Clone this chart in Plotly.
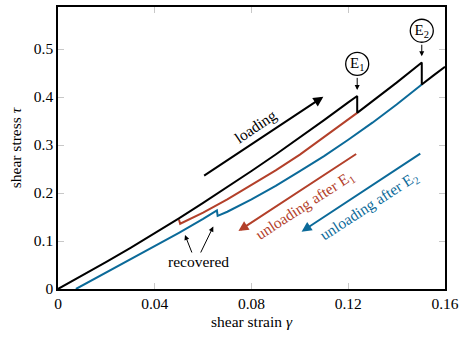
import plotly.graph_objects as go

# loading curve (black), with the two drops at E1 and E2
load_x = [0, 0.01, 0.02, 0.03, 0.04, 0.05, 0.06, 0.07, 0.08, 0.09, 0.10, 0.11, 0.12, 0.1237,
          0.1237, 0.13, 0.14, 0.1504, 0.1504, 0.155, 0.16]
load_y = [0, 0.0278, 0.0564, 0.0858, 0.1161, 0.1473, 0.1793, 0.2121, 0.2458, 0.2803, 0.3156, 0.3518, 0.3888, 0.402,
          0.367, 0.391, 0.430, 0.472, 0.426, 0.444, 0.463]

# unloading after E1 (red)
unl1_x = [0.0500, 0.0505, 0.06, 0.07, 0.08, 0.09, 0.10, 0.11, 0.1237]
unl1_y = [0.145, 0.136, 0.159, 0.1867, 0.2167, 0.247, 0.280, 0.316, 0.367]

# unloading after E2 (blue)
unl2_x = [0.0074, 0.02, 0.03, 0.04, 0.0442, 0.05, 0.06, 0.0657, 0.0660, 0.07, 0.08, 0.09, 0.10,
          0.11, 0.12, 0.13, 0.14, 0.1504]
unl2_y = [0, 0.0344, 0.0618, 0.0891, 0.1006, 0.1171, 0.146, 0.1635, 0.1525, 0.161, 0.1866, 0.215, 0.2455,
          0.277, 0.311, 0.3465, 0.3845, 0.426]

event_x = [0.1237, 0.1504]
event_y = [0.469, 0.538]
event_txt = ["E<sub>1</sub>", "E<sub>2</sub>"]

x_ticks = [0, 0.04, 0.08, 0.12, 0.16]
x_labels = ["0", "0.04", "0.08", "0.12", "0.16"]
y_ticks = [0, 0.1, 0.2, 0.3, 0.4, 0.5]
y_labels = ["0", "0.1", "0.2", "0.3", "0.4", "0.5"]

BLACK = "#000000"
RED = "#b3402a"
BLUE = "#0b6a99"
FONT = "Liberation Serif"
FS = 15.5

fig = go.Figure()
fig.add_trace(go.Scatter(x=unl2_x, y=unl2_y, mode="lines", line=dict(color=BLUE, width=2)))
fig.add_trace(go.Scatter(x=unl1_x, y=unl1_y, mode="lines", line=dict(color=RED, width=2)))
fig.add_trace(go.Scatter(x=load_x, y=load_y, mode="lines", line=dict(color=BLACK, width=2)))
fig.add_trace(go.Scatter(
    x=event_x, y=event_y, mode="markers+text", text=event_txt,
    textposition="middle center", textfont=dict(family=FONT, size=15, color="black"),
    marker=dict(size=23, color="white", line=dict(color="black", width=1.3)),
))


def arrow(x0, y0, x1, y1, color, width=2, head=2, size=1.0):
    return dict(x=x1, y=y1, ax=x0, ay=y0, xref="x", yref="y", axref="x", ayref="y",
                text="", showarrow=True, arrowhead=head, arrowsize=size,
                arrowwidth=width, arrowcolor=color, standoff=0)


def label(x, y, text, color, angle=0):
    return dict(x=x, y=y, xref="x", yref="y", text=text, showarrow=False,
                textangle=angle, font=dict(family=FONT, size=FS, color=color))


annotations = [
    arrow(0.0598, 0.234, 0.1097, 0.4006, BLACK),
    label(0.0815, 0.339, "loading", BLACK, -34),
    arrow(0.1239, 0.2833, 0.0746, 0.1208, RED),
    label(0.1021, 0.175, "unloading after E<sub>1</sub>", RED, -33),
    arrow(0.1504, 0.284, 0.1007, 0.1194, BLUE),
    label(0.1286, 0.171, "unloading after E<sub>2</sub>", BLUE, -33),
    arrow(0.1237, 0.443, 0.1237, 0.4146, BLACK, width=1, head=2, size=1),
    arrow(0.1504, 0.512, 0.1504, 0.485, BLACK, width=1, head=2, size=1),
    arrow(0.0556, 0.0729, 0.0525, 0.1125, BLACK, width=1, head=2, size=1),
    arrow(0.0587, 0.0729, 0.0642, 0.130, BLACK, width=1, head=2, size=1),
    label(0.0580, 0.058, "recovered", BLACK),
]

fig.update_layout(
    width=470, height=338,
    margin=dict(l=58, r=25, t=7, b=49),
    plot_bgcolor="white", paper_bgcolor="white",
    showlegend=False,
    font=dict(family=FONT, size=FS, color="black"),
    annotations=annotations,
)
axis_style = dict(
    showgrid=False, zeroline=False, showline=True, mirror="ticks", automargin=False,
    linecolor="black", linewidth=1.5, ticks="inside", ticklen=6, tickcolor="#c8c8c8",
    tickfont=dict(family=FONT, size=FS, color="black"),
)
fig.update_xaxes(
    range=[0, 0.16], tickvals=x_ticks, ticktext=x_labels,
    title=dict(text="shear strain <i>γ</i>", standoff=5, font=dict(family=FONT, size=FS)),
    **axis_style,
)
fig.update_yaxes(
    range=[0, 0.5875], tickvals=y_ticks, ticktext=y_labels,
    title=dict(text="shear stress <i>τ</i>", standoff=8, font=dict(family=FONT, size=FS)),
    **axis_style,
)

# the page body has a default 8px margin; drop it so the figure fills the window
fig.write_html("out.html", config={"displayModeBar": False},
               post_script="document.body.style.margin='0';")
